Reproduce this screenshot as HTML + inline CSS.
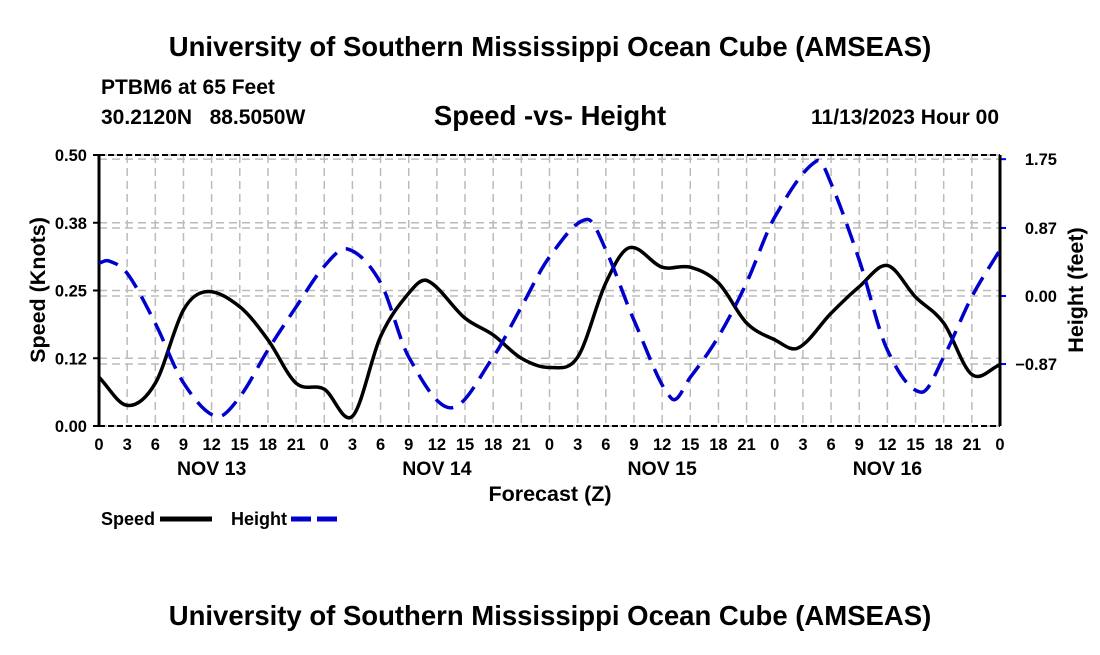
<!DOCTYPE html>
<html><head><meta charset="utf-8"><style>
body{margin:0;background:#fff;width:1100px;height:650px;overflow:hidden;font-family:"Liberation Sans",sans-serif}
svg text{font-family:"Liberation Sans",sans-serif;font-weight:bold;fill:#000}
</style></head><body>
<svg id="c" width="1100" height="650">
<text x="550" y="56" font-size="27.5" text-anchor="middle">University of Southern Mississippi Ocean Cube (AMSEAS)</text>
<text x="101" y="94" font-size="21">PTBM6 at 65 Feet</text>
<text x="101" y="124" font-size="21">30.2120N&#160;&#160;&#160;88.5050W</text>
<text x="550" y="125" font-size="27.5" text-anchor="middle">Speed -vs- Height</text>
<text x="999" y="124" font-size="21" text-anchor="end">11/13/2023 Hour 00</text>
<text x="550" y="625" font-size="27.5" text-anchor="middle">University of Southern Mississippi Ocean Cube (AMSEAS)</text>
<g id="g"></g>
</svg>
<script>
const speedHours=[0,3,6,9,11.5,15,18,21,24,27,30,33,35,39,42,45,48,51,54,56.5,60,63,66,69,72,74.5,78,81,84,87,90,93,96];
const speed=[0.09,0.038,0.079,0.214,0.248,0.22,0.159,0.079,0.068,0.018,0.165,0.245,0.268,0.199,0.168,0.125,0.108,0.127,0.264,0.329,0.293,0.293,0.264,0.19,0.159,0.144,0.208,0.257,0.296,0.238,0.19,0.095,0.113];
const heightHours=[0,1,3,6,9,12.5,15,18,21,24,26.5,30,33,37.5,42,45,48,52,54,57,61,63,66,69,72,76.5,78,81,84,87.6,90,93,96];
const height=[0.42,0.45,0.29,-0.35,-1.11,-1.54,-1.29,-0.69,-0.14,0.38,0.6,0.17,-0.78,-1.43,-0.78,-0.14,0.5,0.98,0.59,-0.31,-1.31,-1.04,-0.52,0.17,1.01,1.73,1.44,0.46,-0.69,-1.23,-0.78,-0.01,0.59];
const leftTicks=[0,0.125,0.25,0.375,0.5];
const leftLabels=["0.00","0.12","0.25","0.38","0.50"];
const rightTicks=[-0.87,0,0.87,1.75];
const rightLabels=["\u22120.87","0.00","0.87","1.75"];
const xLabels=["0","3","6","9","12","15","18","21"];
const days=["NOV 13","NOV 14","NOV 15","NOV 16"];
const L=99,R=1000,T=155,B=426;
const xs=h=>L+(R-L)*h/96;
const ys=v=>B-(B-T)*v/0.5;
const yh=v=>296-v*78.2;
const g=document.getElementById('g');
const NS='http://www.w3.org/2000/svg';
function mk(t,a,p){const e=document.createElementNS(NS,t);for(const k in a)e.setAttribute(k,a[k]);(p||g).appendChild(e);return e;}
for(let h=3;h<96;h+=3){const e=mk('line',{x1:xs(h),x2:xs(h),y1:T,y2:B,stroke:'#bbb','stroke-width':1.5,'stroke-dasharray':'8,5'});

}
leftTicks.forEach((v,i)=>{const e=mk('line',{x1:L,x2:R,y1:ys(v),y2:ys(v),stroke:'#bbb','stroke-width':1.5,'stroke-dasharray':'8,5'});


const t=mk('text',{x:L-12,y:ys(v)+6,'font-size':16.5,'text-anchor':'end'});t.textContent=leftLabels[i];


mk('line',{x1:L-6,x2:L,y1:ys(v),y2:ys(v),stroke:'#000','stroke-width':2});});
rightTicks.forEach((v,i)=>{const e=mk('line',{x1:L,x2:R,y1:yh(v),y2:yh(v),stroke:'#bbb','stroke-width':1.5,'stroke-dasharray':'8,5'});


const t=mk('text',{x:1057,y:yh(v)+6,'font-size':16.5,'text-anchor':'end'});t.textContent=rightLabels[i];


mk('line',{x1:R,x2:R+6,y1:yh(v),y2:yh(v),stroke:'#00f','stroke-width':2});});
mk('line',{x1:L,x2:L,y1:T,y2:B,stroke:'#000','stroke-width':3});
mk('line',{x1:R,x2:R,y1:T,y2:B,stroke:'#000','stroke-width':3});
mk('line',{x1:L,x2:R,y1:B,y2:B,stroke:'#000','stroke-width':2,'stroke-dasharray':'6,3'});
mk('line',{x1:L,x2:R,y1:T,y2:T,stroke:'#000','stroke-width':2,'stroke-dasharray':'6,3'});
for(let h=0;h<=96;h+=3){const t=mk('text',{x:xs(h),y:450,'font-size':16.5,'text-anchor':'middle'});t.textContent=xLabels[(h/3)%8];

}
days.forEach((d,i)=>{const t=mk('text',{x:xs(12+24*i),y:475,'font-size':19.5,'text-anchor':'middle'});t.textContent=d;

});
let t=mk('text',{x:550,y:501,'font-size':21.5,'text-anchor':'middle'});t.textContent='Forecast (Z)';


t=mk('text',{x:0,y:0,'font-size':21.5,'text-anchor':'middle',transform:'translate(45,290) rotate(-90)'});t.textContent='Speed (Knots)';


t=mk('text',{x:0,y:0,'font-size':21.5,'text-anchor':'middle',transform:'translate(1083,290) rotate(-90)'});t.textContent='Height (feet)';


function path(hrs,vals,fy){const p=hrs.map((h,i)=>[xs(h),fy(vals[i])]);let d='M'+p[0];
for(let i=0;i<p.length-1;i++){const p0=p[i-1]||p[i],p1=p[i],p2=p[i+1],p3=p[i+2]||p2;
const dx=p2[0]-p1[0];
const m1=(p2[1]-p0[1])/(p2[0]-p0[0]||1),m2=(p3[1]-p1[1])/(p3[0]-p1[0]||1);
d+=' C'+(p1[0]+dx/3)+','+(p1[1]+m1*dx/3)+' '+(p2[0]-dx/3)+','+(p2[1]-m2*dx/3)+' '+p2;}return d;}
let s=mk('path',{d:path(speedHours,speed,ys),fill:'none',stroke:'#000','stroke-width':3.5});


s=mk('path',{d:path(heightHours,height,yh),fill:'none',stroke:'#00c','stroke-width':3.5,'stroke-dasharray':'20,10'});


t=mk('text',{x:101,y:525,'font-size':18});t.textContent='Speed';


mk('line',{x1:160,x2:212,y1:519,y2:519,stroke:'#000','stroke-width':5});
t=mk('text',{x:231,y:525,'font-size':18});t.textContent='Height';


mk('line',{x1:291,x2:343,y1:519,y2:519,stroke:'#00c','stroke-width':5,'stroke-dasharray':'20,6'});
</script>
</body></html>
